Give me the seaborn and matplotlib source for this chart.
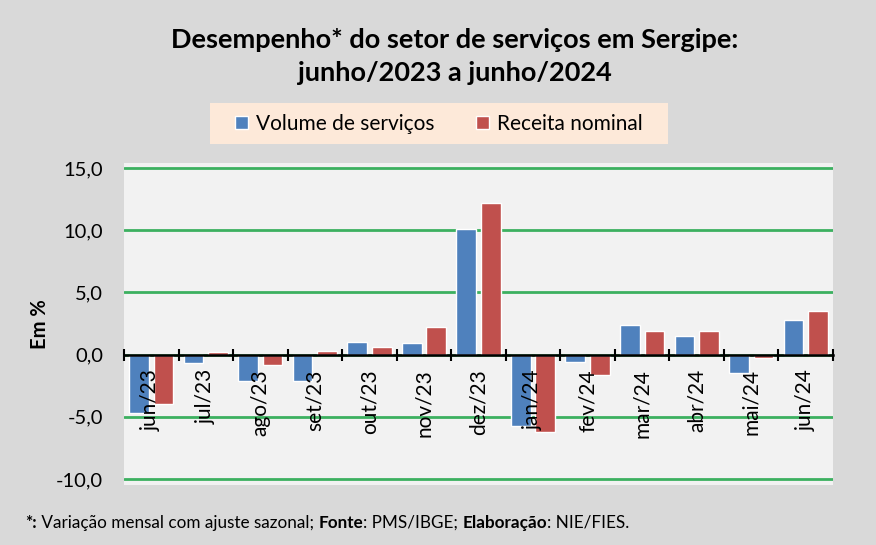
import numpy as np
import pandas as pd
import matplotlib
matplotlib.use('Agg')
import matplotlib.pyplot as plt
import seaborn as sns
from matplotlib.patches import Rectangle
from matplotlib.ticker import FuncFormatter

# dados
meses = ['jun/23', 'jul/23', 'ago/23', 'set/23', 'out/23', 'nov/23', 'dez/23',
         'jan/24', 'fev/24', 'mar/24', 'abr/24', 'mai/24', 'jun/24']
volume = [-4.7, -0.7, -2.1, -2.1, 1.0, 0.9, 10.1, -5.7, -0.6, 2.4, 1.5, -1.5, 2.8]
receita = [-4.0, 0.2, -0.8, 0.3, 0.6, 2.2, 12.2, -6.2, -1.6, 1.9, 1.9, -0.3, 3.5]
series = ['Volume de serviços', 'Receita nominal']
cores = ['#4f81bd', '#c0504d']
yticks = [-10, -5, 0, 5, 10, 15]

df = pd.DataFrame({
    'mes': meses * 2,
    'valor': volume + receita,
    'serie': [series[0]] * len(meses) + [series[1]] * len(meses),
})

sns.set_theme(style='white')
plt.rcParams['font.family'] = ['Lato', 'DejaVu Sans']
plt.rcParams['text.color'] = 'black'

W, H = 876, 545
fig = plt.figure(figsize=(W / 100, H / 100), dpi=100, facecolor='#d9d9d9')
ax = fig.add_axes([124 / W, 1 - 485 / H, (833 - 124) / W, (485 - 163) / H])
ax.set_facecolor('#f2f2f2')

sns.barplot(data=df, x='mes', y='valor', hue='serie', palette=cores,
            width=0.9, gap=0.2, saturation=1, ax=ax)

handles, labels = ax.get_legend_handles_labels()
ax.get_legend().remove()

ax.set_xlim(-0.5, len(meses) - 0.5)
ax.set_ylim(-10.48, 15.4)
ax.set_yticks(yticks)
ax.yaxis.set_major_formatter(FuncFormatter(lambda v, p: f'{v:.1f}'.replace('.', ',')))
ax.yaxis.grid(True, color='#3cb060', lw=2)
ax.set_axisbelow(True)
ax.xaxis.set_zorder(3)

for s in ['top', 'right', 'left']:
    ax.spines[s].set_visible(False)
ax.spines['bottom'].set_position(('data', 0))
ax.spines['bottom'].set_color('black')
ax.spines['bottom'].set_linewidth(1.8)
ax.spines['bottom'].set_zorder(3)

ax.set_xticks(np.arange(-0.5, len(meses), 1), minor=True)
ax.tick_params(axis='x', which='major', length=0, pad=10.5, labelsize=15,
               labelrotation=90, colors='black')
ax.tick_params(axis='x', which='minor', direction='inout', length=9,
               width=1.5, color='black', bottom=True)
ax.tick_params(axis='y', length=0, pad=15, labelsize=14.5, colors='black')
ax.set_xlabel('')
ax.set_ylabel('')

fig.text(40 / W, 1 - 324 / H, 'Em %', rotation=90, fontsize=14.5,
         fontweight='bold', ha='center', va='center')

fig.text(455 / W, 1 - 40 / H, 'Desempenho* do setor de serviços em Sergipe:',
         fontsize=19.5, fontweight='bold', ha='center', va='center')
fig.text(455 / W, 1 - 73 / H, 'junho/2023 a junho/2024',
         fontsize=19.5, fontweight='bold', ha='center', va='center')

fig.patches.append(Rectangle((210 / W, 1 - 144 / H), (668 - 210) / W, 41 / H,
                             transform=fig.transFigure, facecolor='#fde9d9',
                             edgecolor='none', zorder=0))
fig.legend(handles, labels, loc='center', bbox_to_anchor=(439 / W, 1 - 123.5 / H),
           ncol=2, frameon=False, fontsize=15, handlelength=0.6,
           handleheight=0.6, handletextpad=0.4, columnspacing=2.0,
           labelcolor='black')

# nota de rodapé com trechos em negrito
partes = [('*:', 'bold'), (' Variação mensal com ajuste sazonal; ', 'normal'),
          ('Fonte', 'bold'), (': PMS/IBGE; ', 'normal'),
          ('Elaboração', 'bold'), (': NIE/FIES.', 'normal')]
renderer = fig.canvas.get_renderer()
x = 25
for txt, peso in partes:
    t = fig.text(x / W, 1 - 523 / H, txt, fontsize=12.3, fontweight=peso,
                 ha='left', va='center')
    x = t.get_window_extent(renderer).x1

fig.savefig('out.png', dpi=100, facecolor=fig.get_facecolor())
